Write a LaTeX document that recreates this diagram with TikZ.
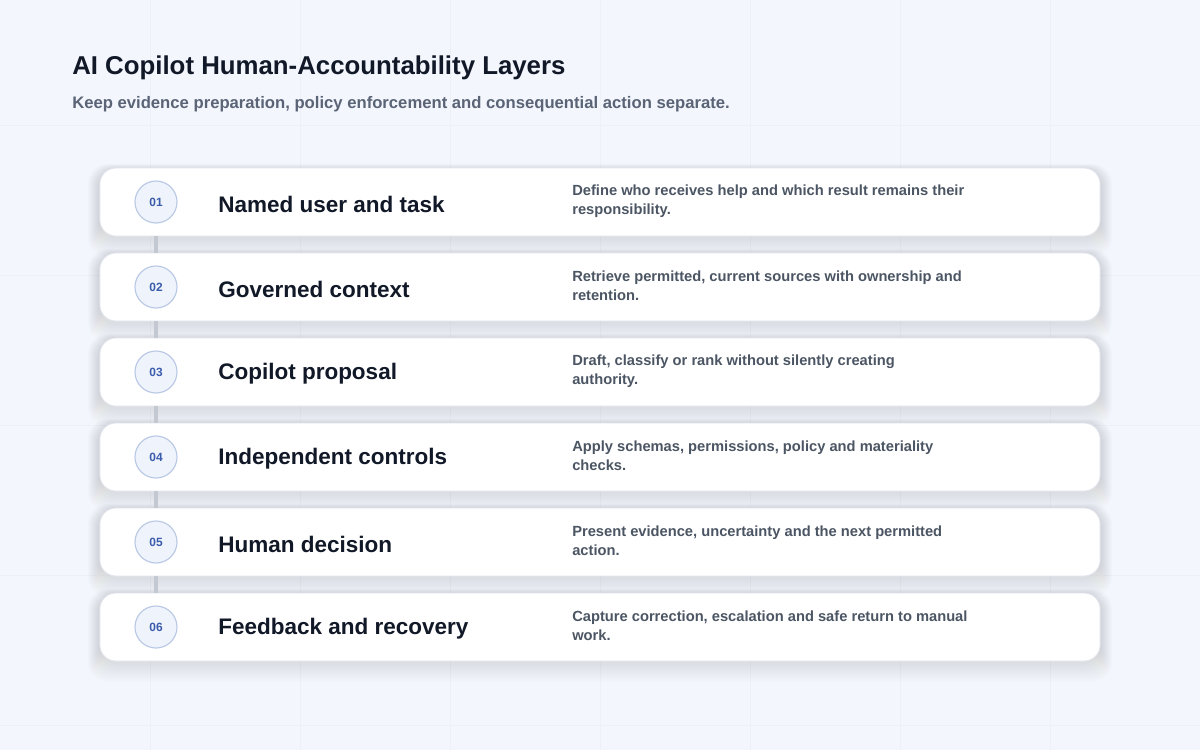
\documentclass[tikz,border=0pt]{standalone}
\usepackage{fontspec}
\setmainfont{Liberation Sans}
\definecolor{bgfill}{RGB}{243,246,252}
\definecolor{gridc}{RGB}{237,240,247}
\definecolor{ink}{RGB}{17,24,39}
\definecolor{subink}{RGB}{90,100,118}
\definecolor{noteink}{RGB}{75,85,99}
\definecolor{cardline}{RGB}{224,228,236}
\definecolor{numline}{RGB}{185,200,228}
\definecolor{numfill}{RGB}{238,243,252}
\definecolor{numink}{RGB}{59,91,171}
\definecolor{linkgray}{RGB}{196,200,208}
\definecolor{shade}{RGB}{70,85,120}
\begin{document}
\begin{tikzpicture}[x=0.025cm,y=-0.025cm,
card/.style={draw=cardline,fill=white,rounded corners=0.4cm,minimum width=25cm,minimum height=1.7cm,line width=0.6pt},
num/.style={circle,draw=numline,fill=numfill,line width=0.8pt,minimum size=1.05cm,inner sep=0pt,text=numink,font=\bfseries\fontsize{8.5}{10}\selectfont},
head/.style={anchor=west,inner sep=0pt,text=ink,font=\bfseries\fontsize{16}{19}\selectfont},
note/.style={anchor=west,align=left,inner sep=0pt,text=noteink,font=\bfseries\fontsize{10.45}{13.5}\selectfont},
link/.style={draw=linkgray,line width=2.2pt}]
\useasboundingbox (0,0) rectangle (1200,750);
\fill[bgfill](0,0)rectangle(1200,750);
\foreach \gx in {150,300,...,1050} \draw[gridc,line width=0.4pt](\gx,0)--(\gx,750);
\foreach \gy in {125,275,...,725} \draw[gridc,line width=0.4pt](0,\gy)--(1200,\gy);
% soft card shadows
\foreach \i in {1,...,6}{
\pgfmathsetmacro\cy{202+85*(\i-1)}
\foreach \s in {1,...,12}
\fill[shade,opacity=0.007,rounded corners=0.5cm](100-\s,\cy-32-0.5*\s)rectangle(1100+\s,\cy+36+1.6*\s);
}
% layers
\foreach \i/\t/\d in {
1/Named user and task/{Define who receives help and which result remains their\\responsibility.},
2/Governed context/{Retrieve permitted, current sources with ownership and\\retention.},
3/Copilot proposal/{Draft, classify or rank without silently creating\\authority.},
4/Independent controls/{Apply schemas, permissions, policy and materiality\\checks.},
5/Human decision/{Present evidence, uncertainty and the next permitted\\action.},
6/Feedback and recovery/{Capture correction, escalation and safe return to manual\\work.}}{
\pgfmathsetmacro\cy{202+85*(\i-1)}
\node[card](card\i)at(600,\cy){};
\node[num](num\i)at(156,\cy){0\i};
\node[head](head\i)at(218,\cy+2){\t};
\node[note](note\i)at(572,\cy-1){\d};
}
\foreach \i [evaluate=\i as \j using int(\i+1)] in {1,...,5}
\draw[link](card\i.south -| num\i)--(card\j.north -| num\j);
\node[anchor=west,inner sep=0pt,text=ink,font=\bfseries\fontsize{18.35}{22}\selectfont](title)at(72,68){AI Copilot Human-Accountability Layers};
\node[anchor=west,inner sep=0pt,text=subink,font=\bfseries\fontsize{11.85}{14}\selectfont](subtitle)at(72,104){Keep evidence preparation, policy enforcement and consequential action separate.};
\end{tikzpicture}
\end{document}
